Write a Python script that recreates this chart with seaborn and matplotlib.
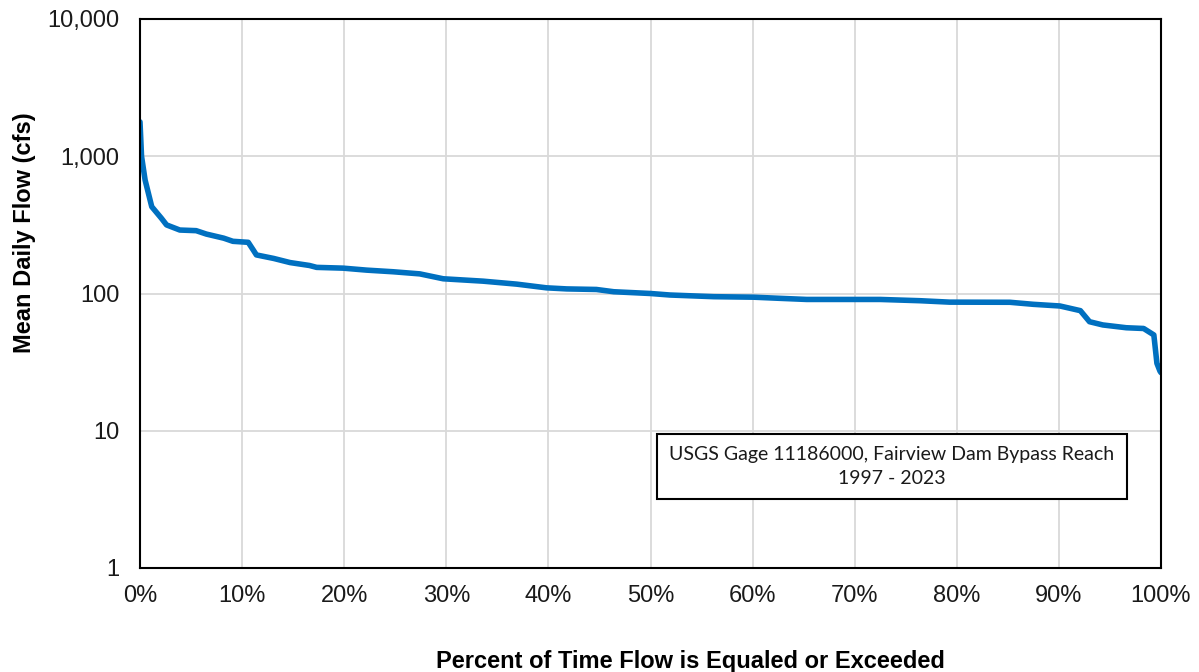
import matplotlib
matplotlib.use("Agg")
import matplotlib.pyplot as plt
import matplotlib.ticker as mticker
import seaborn as sns
import pandas as pd

# Flow duration curve
pct_exceeded = [0.0, 0.15, 0.5, 1.15, 2.1, 2.6, 3.9, 5.5, 6.5, 8.2, 9.1, 10.6, 11.1, 11.4,
                13.1, 14.7, 16.6, 17.3, 19.9, 22.2, 24.8, 27.4, 29.7, 33.6, 36.9, 39.8,
                41.8, 44.7, 46.4, 50.0, 51.9, 56.2, 60.1, 62.7, 65.3, 72.5, 76.4, 79.3,
                85.2, 87.5, 90.1, 92.1, 93.0, 94.3, 96.6, 98.3, 99.3, 99.6, 99.9, 100.0]
flow_cfs = [1780, 1000, 671, 429, 353, 316, 290, 287, 271, 253, 240, 236, 207, 191,
            180, 168, 160, 155, 153, 148, 144, 139, 128, 123, 117, 110,
            108, 107, 103, 100, 97.5, 94.8, 94, 92.2, 90.5, 90.5, 88.6, 86.5,
            86.3, 83.4, 81.1, 75, 62.3, 59, 56.3, 55.6, 49.9, 31, 27.2, 26.5]

x_ticks = [0, 10, 20, 30, 40, 50, 60, 70, 80, 90, 100]
y_ticks = [1, 10, 100, 1000, 10000]

x_label = "Percent of Time Flow is Equaled or Exceeded"
y_label = "Mean Daily Flow (cfs)"
note_text = "USGS Gage 11186000, Fairview Dam Bypass Reach\n1997 - 2023"

df = pd.DataFrame({"pct": pct_exceeded, "flow": flow_cfs})

sns.set_theme(style="white")
plt.rcParams["font.family"] = ["Liberation Sans", "DejaVu Sans"]

fig = plt.figure(figsize=(11.99, 6.72), dpi=100)
ax = fig.add_axes([140 / 1199, 1 - 568 / 672, (1161 - 140) / 1199, (568 - 19) / 672])

sns.lineplot(data=df, x="pct", y="flow", ax=ax, color="#0070C0", linewidth=4.0,
             solid_joinstyle="round", solid_capstyle="round")

ax.set_yscale("log")
ax.set_xlim(0, 100)
ax.set_ylim(1, 10000)
ax.set_xticks(x_ticks)
ax.set_yticks(y_ticks)
ax.yaxis.set_minor_locator(mticker.NullLocator())
ax.xaxis.set_major_formatter(mticker.FuncFormatter(lambda v, p: f"{v:.0f}%"))
ax.yaxis.set_major_formatter(mticker.FuncFormatter(lambda v, p: f"{v:,.0f}"))

ax.grid(True, color="#D9D9D9", linewidth=1.3)
ax.set_axisbelow(True)
for s in ax.spines.values():
    s.set_color("black")
    s.set_linewidth(1.5)

ax.tick_params(axis="both", length=0, labelsize=17, labelcolor="#1a1a1a")
ax.tick_params(axis="x", pad=12)
ax.tick_params(axis="y", pad=15)

ax.set_xlabel(x_label, fontsize=17, fontweight="bold", color="black")
ax.set_ylabel(y_label, fontsize=17, fontweight="bold", color="black")
ax.xaxis.set_label_coords(0.5387, -0.149)
ax.yaxis.set_label_coords(-0.102, 0.61)

ax.text(0.7365, 0.1849, note_text, transform=ax.transAxes, ha="center", va="center",
        fontsize=14, family=["Lato", "DejaVu Sans"], color="#1a1a1a", linespacing=1.5,
        bbox=dict(boxstyle="square,pad=0.62", facecolor="white", edgecolor="black", linewidth=1.5))

fig.savefig("out.png", dpi=100)
